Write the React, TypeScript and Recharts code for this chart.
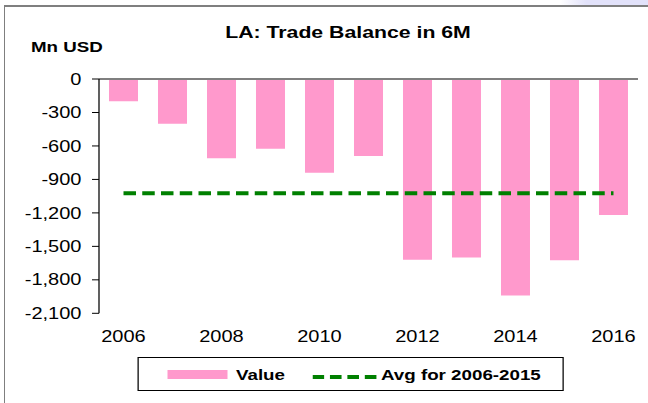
import { ComposedChart, Bar, Line, XAxis, YAxis } from "recharts";

// the reference is stretched horizontally, so the chart is drawn narrower and scaled
const STRETCH = 1.25;
const W = 648 / STRETCH;
const H = 403;

const years = ["2006", "2007", "2008", "2009", "2010", "2011", "2012", "2013", "2014", "2015", "2016"];
const values = [-200, -400, -710, -625, -840, -690, -1620, -1600, -1940, -1625, -1220];
const avg = [-1025, -1025, -1025, -1025, -1025, -1025, -1025, -1025, -1025, -1025, -1025];
const yTicks = [0, -300, -600, -900, -1200, -1500, -1800, -2100];
const edgeTicks = [0, 1, 2, 3, 4, 5, 6, 7, 8, 9, 10, 11];

const data = years.map((year, i) => ({ year, value: values[i], avg: avg[i] }));

const PINK = "#FF99CC";
const GREEN = "#008000";
const FONT = "'Liberation Sans', Arial, sans-serif";

function ChartLegend() {
  return (
    <div
      style={{
        position: "absolute",
        left: 110.4,
        top: 357,
        width: 340.8,
        height: 34,
        boxSizing: "border-box",
        border: "1px solid #000",
        background: "#fff",
      }}
    >
      <div style={{ position: "absolute", left: 22.2, top: 12, width: 48.8, height: 9, background: PINK }} />
      <span style={{ position: "absolute", left: 77.4, top: 8.6, fontSize: 15, lineHeight: "15px", fontWeight: "bold" }}>
        Value
      </span>
      <svg style={{ position: "absolute", left: 138.2, top: 15.8 }} width={52} height={6}>
        <line x1={0} y1={3} x2={51.2} y2={3} stroke={GREEN} strokeWidth={4} strokeDasharray="9.3 4.65" />
      </svg>
      <span style={{ position: "absolute", left: 193.4, top: 8.6, fontSize: 15, lineHeight: "15px", fontWeight: "bold" }}>
        Avg for 2006-2015
      </span>
    </div>
  );
}

export default function App() {
  return (
    <div style={{ position: "absolute", left: 0, top: 0, width: 648, height: H, overflow: "hidden", background: "#fff" }}>
      <div
        style={{
          position: "absolute",
          left: 560,
          top: 0,
          width: 88,
          height: 6,
          background: "linear-gradient(to right, rgba(228,228,250,0), #E2E2FA 30%, #E2E2FA)",
        }}
      />
      <div
        style={{
          position: "absolute",
          left: 4,
          top: 5,
          width: 700,
          height: 500,
          borderTop: "2px solid #7f7f7f",
          borderLeft: "1px solid #7f7f7f",
        }}
      />
      <div
        style={{
          position: "absolute",
          left: 0,
          top: 0,
          width: W,
          height: H,
          transform: `scaleX(${STRETCH})`,
          transformOrigin: "0 0",
          fontFamily: FONT,
          color: "#000",
        }}
      >
        <div
          style={{
            position: "absolute",
            left: 0,
            width: 556.8,
            top: 24,
            textAlign: "center",
            fontSize: 17,
            lineHeight: "17px",
            fontWeight: "bold",
          }}
        >
          LA: Trade Balance in 6M
        </div>
        <div style={{ position: "absolute", left: 24.8, top: 39, fontSize: 15, lineHeight: "15px", fontWeight: "bold" }}>
          Mn USD
        </div>
        <ComposedChart width={W} height={H} data={data} margin={{ top: 79, right: 8, bottom: 49.7, left: 0 }}>
          <XAxis
            xAxisId="edges"
            type="number"
            orientation="top"
            mirror
            height={1}
            domain={[0, 11]}
            ticks={edgeTicks}
            allowDataOverflow
            tick={false}
            tickSize={5}
            stroke="#7f7f7f"
            strokeWidth={2}
          />
          <XAxis
            xAxisId="cat"
            dataKey="year"
            height={40}
            interval={1}
            axisLine={false}
            tickLine={false}
            tickSize={0}
            tickMargin={17}
            tick={{ fill: "#000", fontSize: 16 }}
          />
          <YAxis
            width={79.2}
            domain={[-2100, 0]}
            ticks={yTicks}
            interval={0}
            allowDataOverflow
            tickSize={5.6}
            tickMargin={8.4}
            stroke="#000"
            tick={{ fill: "#000", fontSize: 16 }}
            tickFormatter={(v: number) => v.toLocaleString("en-US")}
          />
          <Bar xAxisId="cat" dataKey="value" fill={PINK} barSize={23.2} isAnimationActive={false} />
          <Line
            xAxisId="cat"
            type="linear"
            dataKey="avg"
            stroke={GREEN}
            strokeWidth={4}
            strokeDasharray="10 5"
            dot={false}
            activeDot={false}
            isAnimationActive={false}
          />
        </ComposedChart>
        <ChartLegend />
      </div>
    </div>
  );
}
